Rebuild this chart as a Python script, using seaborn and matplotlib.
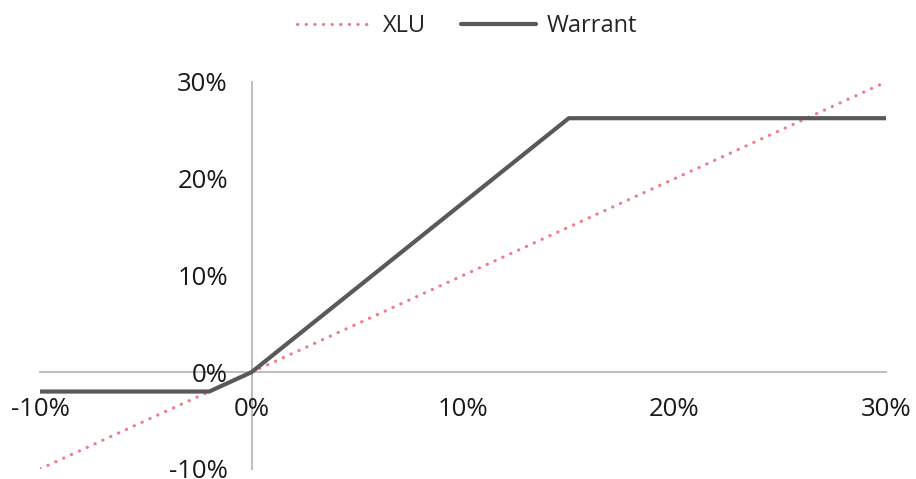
import seaborn as sns
import matplotlib.pyplot as plt
from matplotlib.ticker import PercentFormatter

# data (percent)
xlu_x = [-10, 30]
xlu_y = [-10, 30]
warrant_x = [-10, -2, 0, 15, 30]
warrant_y = [-2, -2, 0, 26.25, 26.25]
ticks = [-10, 0, 10, 20, 30]

sns.set_style("white")
plt.rcParams['font.family'] = ['Open Sans', 'DejaVu Sans']
plt.rcParams['axes.unicode_minus'] = False

fig = plt.figure(figsize=(9.16, 4.79), dpi=100)
ax = fig.add_axes([0.0437, 0.021, 0.9236, 0.808])

sns.lineplot(x=xlu_x, y=xlu_y, ax=ax, color="#F27D8A", linewidth=2.3,
             label="XLU", dashes=False)
ax.lines[-1].set_linestyle((0, (0.1, 2.6)))
ax.lines[-1].set_dash_capstyle("round")
sns.lineplot(x=warrant_x, y=warrant_y, ax=ax, color="#595959", linewidth=3,
             label="Warrant")

ax.set_xlim(-10, 30)
ax.set_ylim(-10, 30)
ax.set_xticks(ticks)
ax.set_yticks(ticks)
ax.xaxis.set_major_formatter(PercentFormatter(decimals=0))
ax.yaxis.set_major_formatter(PercentFormatter(decimals=0))

for side in ["top", "right"]:
    ax.spines[side].set_visible(False)
ax.spines["left"].set_position(("data", 0))
ax.spines["bottom"].set_position(("data", 0))
for side in ["left", "bottom"]:
    ax.spines[side].set_color("#BFBFBF")
    ax.spines[side].set_linewidth(1.5)
    ax.spines[side].set_zorder(0)

ax.tick_params(axis="x", length=0, pad=18, labelsize=18.5, colors="#1a1a1a")
ax.tick_params(axis="y", length=0, pad=17, labelsize=18.5, colors="#1a1a1a")

ax.legend(loc="center", bbox_to_anchor=(0.505, 1.145), ncol=2,
          frameon=False, fontsize=17, handlelength=3.2, handletextpad=0.45,
          columnspacing=1.45)

fig.savefig("out.png", dpi=100)
